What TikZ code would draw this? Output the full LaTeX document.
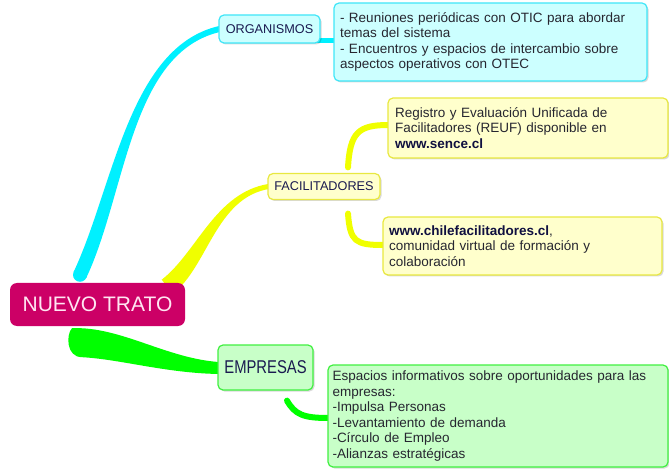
\documentclass[tikz,border=0pt]{standalone}
\usepackage{fontspec}
\setmainfont{Liberation Sans}
\newfontfamily\narrowfont[FakeStretch=0.8]{Liberation Sans}
\usetikzlibrary{calc,shadows}
\pgfdeclarelayer{background}
\pgfsetlayers{background,main}
\definecolor{ntFill}{HTML}{CC0066}
\definecolor{ntText}{HTML}{FFE6F2}
\definecolor{cyanB}{HTML}{00F0FF}
\definecolor{cyanFill}{HTML}{CCFFFF}
\definecolor{cyanEdge}{HTML}{40E6F8}
\definecolor{yelB}{HTML}{F0FF00}
\definecolor{yelFill}{HTML}{FFFFCC}
\definecolor{yelEdge}{HTML}{E8E840}
\definecolor{grnB}{HTML}{00FF00}
\definecolor{grnFill}{HTML}{C8FFC8}
\definecolor{grnEdge}{HTML}{40F040}
\definecolor{lbl}{HTML}{1A1A50}
\definecolor{bodytxt}{HTML}{262630}
\definecolor{boldtxt}{HTML}{101040}
\tikzset{
  box/.style={rounded corners=5pt, line width=1.2pt, inner xsep=6pt, inner ysep=2pt,
    drop shadow={shadow xshift=1.5pt, shadow yshift=-1.5pt, fill=black, opacity=0.15}},
  labelbox/.style={box, text=lbl, font=\fontsize{12.7}{14}\selectfont, align=center},
  detailbox/.style={box, text=bodytxt, font=\fontsize{13.5}{15.6}\selectfont, align=left},
  cyanbox/.style={fill=cyanFill, draw=cyanEdge},
  yelbox/.style={fill=yelFill, draw=yelEdge},
  grnbox/.style={fill=grnFill, draw=grnEdge},
  twig/.style={line width=6pt, line cap=round},
}
\newcommand{\bw}[1]{\textcolor{boldtxt}{\textbf{#1}}}
\begin{document}
\begin{tikzpicture}[x=1pt,y=-1pt]
\useasboundingbox (0,0) rectangle (669,470);
% central node
\node[rounded corners=7pt, fill=ntFill, text=ntText, minimum width=175pt, minimum height=43pt,
  font=\fontsize{21}{24}\selectfont] (nt) at (97.5,304.5) {NUEVO TRATO};
% branch labels
\node[labelbox, cyanbox, minimum width=101pt, minimum height=28pt] (org) at (269.5,29) {ORGANISMOS};
\node[labelbox, yelbox, minimum width=112pt, minimum height=26pt] (fac) at (324,186.5) {FACILITADORES};
\node[labelbox, grnbox, minimum width=95pt, minimum height=45pt, font=\narrowfont\fontsize{18.5}{20}\selectfont] (emp) at (265.5,367.5) {EMPRESAS};
% detail boxes
\node[detailbox, cyanbox, text width=301pt, minimum height=78pt] (orgd) at (490.5,42)
  {- Reuniones periódicas con OTIC para abordar\\ temas del sistema\\ - Encuentros y espacios de intercambio sobre\\ aspectos operativos con OTEC};
\node[detailbox, yelbox, text width=266pt, minimum height=60pt, inner xsep=7pt] (reuf) at (528,128)
  {Registro y Evaluación Unificada de\\ Facilitadores (REUF) disponible en\\ \bw{www.sence.cl}};
\node[detailbox, yelbox, text width=267pt, minimum height=58pt] (chile) at (522.5,246)
  {\bw{www.chilefacilitadores.cl}, \\ comunidad virtual de formación y\\ colaboración};
\node[detailbox, grnbox, text width=331pt, minimum height=102pt, inner xsep=4.5pt] (empd) at (498,416)
  {Espacios informativos sobre oportunidades para las\\ empresas:\\ -Impulsa Personas\\ -Levantamiento de demanda\\ -Círculo de Empleo\\ -Alianzas estratégicas};
% connectors
\coordinate (cA) at ($(nt.north)+(-17.5,-8)$);
\coordinate (cB) at ($(org.west)+(1,0)$);
\coordinate (yA) at ($(nt.north east)+(-18,4)$);
\coordinate (yB) at ($(fac.west)+(1,0)$);
\coordinate (gP1) at ($(nt.south)+(-25.5,2)$);
\coordinate (gP4) at ($(nt.south)+(-15.5,31)$);
\coordinate (gP2) at ($(emp.west)+(1,-5.5)$);
\coordinate (gP3) at ($(emp.west)+(1,6.5)$);
\coordinate (oc) at ($(org.east)+(-4,12)$);
\coordinate (fs1) at ($(fac.north)+(24,-5.5)$);
\coordinate (fe1) at ($(reuf.west)+(1,-3)$);
\coordinate (fs2) at ($(fac.south)+(24,13.5)$);
\coordinate (fe2) at ($(chile.west)+(1,-1)$);
\coordinate (es) at ($(emp.south)+(21.5,10)$);
\coordinate (ee) at ($(empd.west)+(1,2)$);
\begin{pgfonlayer}{background}
  % cyan main branch
  \fill[cyanB] ($(cA)+(-6.3,-3)$) .. controls ($(cA)+(33.7,-88)$) and ($(cB)+(-90.7,18.1)$) .. ($(cB)+(-0.7,-2.9)$)
     -- ($(cB)+(0.7,2.9)$) .. controls ($(cB)+(-89.3,23.9)$) and ($(cA)+(46.3,-82)$) .. ($(cA)+(6.3,3)$) -- cycle;
  \fill[cyanB] (cA) circle (7);
  \draw[cyanB, line width=5pt, line cap=round] (oc) -- (orgd.west |- oc);
  % yellow main branch
  \fill[yelB] ($(yA)+(-5.5,-7.1)$) .. controls ($(yA)+(29.5,-34.1)$) and ($(yB)+(-53.4,6.5)$) .. ($(yB)+(-0.4,-2.5)$)
     -- ($(yB)+(0.4,2.5)$) .. controls ($(yB)+(-52.6,11.5)$) and ($(yA)+(40.5,-19.9)$) .. ($(yA)+(5.5,7.1)$) -- cycle;
  \draw[yelB, twig] (fs1) .. controls +(2,-35) and +(-30,0) .. (fe1);
  \draw[yelB, twig] (fs2) .. controls +(2,28) and +(-28,0) .. (fe2);
  % green main branch
  \fill[grnB] (gP1) .. controls ($(gP1)+(48,-2)$) and ($(gP2)+(-53,-4)$) .. (gP2) -- (gP3)
     .. controls ($(gP3)+(-53,-1)$) and ($(gP4)+(38,2)$) .. (gP4)
     .. controls ($(gP4)+(-16,0)$) and ($(gP1)+(-6,6)$) .. (gP1) -- cycle;
  \draw[grnB, twig] (es) .. controls +(8,14) and +(-25,0) .. (ee);
\end{pgfonlayer}
\end{tikzpicture}
\end{document}
